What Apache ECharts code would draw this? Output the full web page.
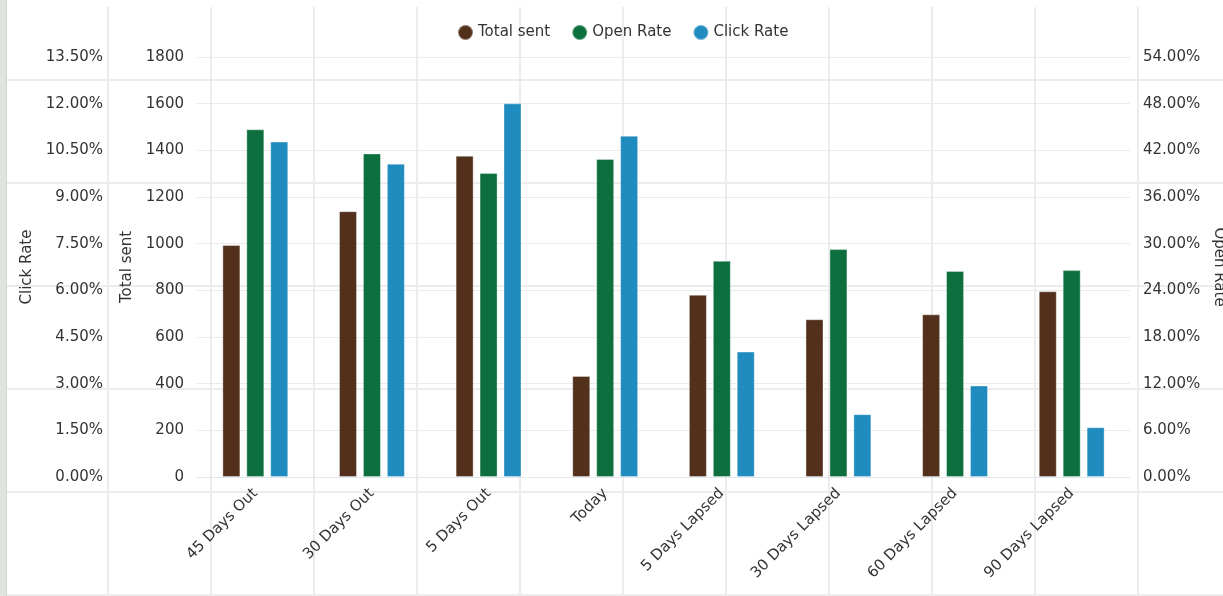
<!DOCTYPE html>
<html>
<head>
<meta charset="utf-8">
<script src="https://cdn.jsdelivr.net/npm/echarts@6/dist/echarts.min.js"></script>
<style>
  html, body { margin: 0; padding: 0; background: #ffffff; }
  #page {
    position: relative; width: 1223px; height: 596px; overflow: hidden;
    background-color: #ffffff;
    background-image:
      linear-gradient(to right, #ececec 2px, transparent 2px),
      linear-gradient(to bottom, #ececec 2px, transparent 2px);
    background-size: 103px 103px;
    background-position: 107px 79px;
  }
  #topband { position: absolute; left: 0; top: 0; width: 1223px; height: 7px; background: #ffffff; }
  #strip { position: absolute; left: 0; top: 0; width: 6px; height: 596px; background: #dfe5dc; border-right: 1px solid #cfd6cc; }
  #chart { position: absolute; left: 0; top: 0; width: 1223px; height: 596px; }
</style>
</head>
<body>
<div id="page">
  <div id="topband"></div>
  <div id="strip"></div>
  <div id="chart"></div>
</div>
<script>
const categories = ['45 Days Out', '30 Days Out', '5 Days Out', 'Today', '5 Days Lapsed', '30 Days Lapsed', '60 Days Lapsed', '90 Days Lapsed'];
const totalSent = [994, 1139, 1377, 433, 781, 676, 697, 796];
const openRate = [44.7, 41.6, 39.1, 40.9, 27.8, 29.3, 26.5, 26.6];   // percent
const clickRate = [10.78, 10.07, 12.01, 10.97, 4.03, 2.02, 2.94, 1.60]; // percent

const seriesNames = ['Total sent', 'Open Rate', 'Click Rate'];
const seriesColors = ['#52301c', '#0d6f3e', '#208bbe'];

const FONT = '"DejaVu Sans", Verdana, sans-serif';
const TXT = '#333333';
const GRID = '#ebebeb';
const FS = 15;

const pct = v => v.toFixed(2) + '%';
const plain = v => String(v);

const chart = echarts.init(document.getElementById('chart'), null, { renderer: 'canvas' });
chart.setOption({
  backgroundColor: 'transparent',
  animation: false,
  textStyle: { fontFamily: FONT, color: TXT },
  legend: {
    data: seriesNames,
    top: 19,
    left: 452,
    icon: 'circle',
    itemWidth: 15,
    itemHeight: 15,
    itemGap: 21,
    textStyle: { fontFamily: FONT, fontSize: FS, color: TXT }
  },
  grid: { left: 197, right: 93, top: 57, bottom: 119, containLabel: false, outerBoundsMode: 'none' },
  xAxis: {
    type: 'category',
    data: categories,
    axisTick: { show: false },
    axisLine: { lineStyle: { color: '#e2e7ee', width: 1 } },
    axisLabel: { rotate: 45, margin: 14, fontFamily: FONT, fontSize: FS, color: TXT, interval: 0 },
    splitLine: { show: false }
  },
  yAxis: [
    {
      type: 'value', name: 'Total sent', nameLocation: 'middle', nameGap: 60,
      nameTextStyle: { fontFamily: FONT, fontSize: FS, color: TXT },
      min: 0, max: 1800, interval: 200, position: 'left',
      axisLine: { show: false }, axisTick: { show: false },
      axisLabel: { margin: 13, fontFamily: FONT, fontSize: FS, color: TXT, formatter: plain },
      splitLine: { show: true, lineStyle: { color: GRID, width: 1 } }
    },
    {
      type: 'value', name: 'Click Rate', nameLocation: 'middle', nameGap: 80,
      nameTextStyle: { fontFamily: FONT, fontSize: FS, color: TXT },
      min: 0, max: 13.5, interval: 1.5, position: 'left', offset: 81,
      axisLine: { show: false }, axisTick: { show: false },
      axisLabel: { margin: 13, fontFamily: FONT, fontSize: FS, color: TXT, formatter: pct },
      splitLine: { show: false }
    },
    {
      type: 'value', name: 'Open Rate', nameLocation: 'middle', nameGap: 81, nameRotate: -90,
      nameTextStyle: { fontFamily: FONT, fontSize: FS, color: TXT },
      min: 0, max: 54, interval: 6, position: 'right',
      axisLine: { show: false }, axisTick: { show: false },
      axisLabel: { margin: 13, fontFamily: FONT, fontSize: FS, color: TXT, formatter: pct },
      splitLine: { show: false }
    }
  ],
  series: [
    { name: seriesNames[0], type: 'bar', yAxisIndex: 0, data: totalSent, barWidth: 18, barGap: '33%',
      itemStyle: { color: seriesColors[0], borderColor: 'rgba(255,255,255,0.35)', borderWidth: 1 } },
    { name: seriesNames[1], type: 'bar', yAxisIndex: 2, data: openRate, barWidth: 18, barGap: '33%',
      itemStyle: { color: seriesColors[1], borderColor: 'rgba(255,255,255,0.35)', borderWidth: 1 } },
    { name: seriesNames[2], type: 'bar', yAxisIndex: 1, data: clickRate, barWidth: 18, barGap: '33%',
      itemStyle: { color: seriesColors[2], borderColor: 'rgba(255,255,255,0.35)', borderWidth: 1 } }
  ]
});
</script>
</body>
</html>
